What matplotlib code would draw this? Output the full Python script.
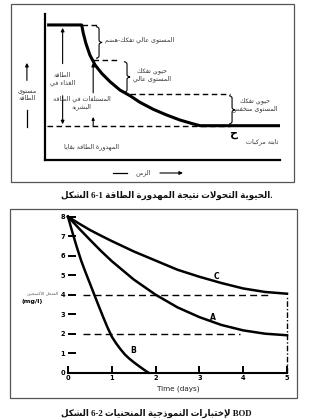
import matplotlib
matplotlib.use("Agg")
import matplotlib.pyplot as plt
from matplotlib.patches import Rectangle, PathPatch
from matplotlib.path import Path

# ---------------- Arabic shaping helper (presentation forms) ----------------
FORMS = {
    'ء': (0xFE80, None, None, None),
    'آ': (0xFE81, 0xFE82, None, None), 'أ': (0xFE83, 0xFE84, None, None),
    'ؤ': (0xFE85, 0xFE86, None, None), 'إ': (0xFE87, 0xFE88, None, None),
    'ئ': (0xFE89, 0xFE8A, 0xFE8B, 0xFE8C), 'ا': (0xFE8D, 0xFE8E, None, None),
    'ب': (0xFE8F, 0xFE90, 0xFE91, 0xFE92), 'ة': (0xFE93, 0xFE94, None, None),
    'ت': (0xFE95, 0xFE96, 0xFE97, 0xFE98), 'ث': (0xFE99, 0xFE9A, 0xFE9B, 0xFE9C),
    'ج': (0xFE9D, 0xFE9E, 0xFE9F, 0xFEA0), 'ح': (0xFEA1, 0xFEA2, 0xFEA3, 0xFEA4),
    'خ': (0xFEA5, 0xFEA6, 0xFEA7, 0xFEA8), 'د': (0xFEA9, 0xFEAA, None, None),
    'ذ': (0xFEAB, 0xFEAC, None, None), 'ر': (0xFEAD, 0xFEAE, None, None),
    'ز': (0xFEAF, 0xFEB0, None, None), 'س': (0xFEB1, 0xFEB2, 0xFEB3, 0xFEB4),
    'ش': (0xFEB5, 0xFEB6, 0xFEB7, 0xFEB8), 'ص': (0xFEB9, 0xFEBA, 0xFEBB, 0xFEBC),
    'ض': (0xFEBD, 0xFEBE, 0xFEBF, 0xFEC0), 'ط': (0xFEC1, 0xFEC2, 0xFEC3, 0xFEC4),
    'ظ': (0xFEC5, 0xFEC6, 0xFEC7, 0xFEC8), 'ع': (0xFEC9, 0xFECA, 0xFECB, 0xFECC),
    'غ': (0xFECD, 0xFECE, 0xFECF, 0xFED0), 'ف': (0xFED1, 0xFED2, 0xFED3, 0xFED4),
    'ق': (0xFED5, 0xFED6, 0xFED7, 0xFED8), 'ك': (0xFED9, 0xFEDA, 0xFEDB, 0xFEDC),
    'ل': (0xFEDD, 0xFEDE, 0xFEDF, 0xFEE0), 'م': (0xFEE1, 0xFEE2, 0xFEE3, 0xFEE4),
    'ن': (0xFEE5, 0xFEE6, 0xFEE7, 0xFEE8), 'ه': (0xFEE9, 0xFEEA, 0xFEEB, 0xFEEC),
    'و': (0xFEED, 0xFEEE, None, None), 'ى': (0xFEEF, 0xFEF0, None, None),
    'ي': (0xFEF1, 0xFEF2, 0xFEF3, 0xFEF4),
}
LAM_ALEF = {'آ': (0xFEF5, 0xFEF6), 'أ': (0xFEF7, 0xFEF8),
            'إ': (0xFEF9, 0xFEFA), 'ا': (0xFEFB, 0xFEFC)}


def _dual(c):
    return c in FORMS and FORMS[c][2] is not None


def _shape_run(run):
    out = []
    i, n = 0, len(run)
    while i < n:
        c = run[i]
        prev_j = i > 0 and _dual(run[i - 1]) and not (run[i - 1] == 'ل' and c in LAM_ALEF)
        if c == 'ل' and i + 1 < n and run[i + 1] in LAM_ALEF:
            iso, fin = LAM_ALEF[run[i + 1]]
            out.append(chr(fin if prev_j else iso))
            i += 2
            continue
        nxt_j = _dual(c) and i + 1 < n and run[i + 1] in FORMS
        f = FORMS[c]
        if prev_j and nxt_j:
            code = f[3]
        elif prev_j:
            code = f[1]
        elif nxt_j:
            code = f[2]
        else:
            code = f[0]
        out.append(chr(code))
        i += 1
    return ''.join(reversed(out))


def ar(text):
    lines = []
    for line in text.split('\n'):
        words = []
        for w in line.split(' '):
            runs, cur, cur_ar = [], '', None
            for ch in w:
                is_ar = ch in FORMS
                if cur and is_ar != cur_ar:
                    runs.append((cur, cur_ar))
                    cur = ''
                cur += ch
                cur_ar = is_ar
            if cur:
                runs.append((cur, cur_ar))
            words.append(''.join(_shape_run(r) if a else r for r, a in runs))
        lines.append(' '.join(words))
    return '\n'.join(lines)


# ---------------- Data: figure 6-1 (schematic energy curve) ----------------
energy_time = [0.09, 1.56, 1.63, 1.74, 1.91, 2.13, 2.41, 2.77, 3.19, 3.62,
               4.04, 4.61, 5.18, 5.74, 6.31, 6.60, 10.0]
energy_level = [9.25, 9.25, 8.68, 7.99, 7.19, 6.51, 5.94, 5.36, 4.79, 4.40,
                3.95, 3.47, 3.08, 2.74, 2.47, 2.35, 2.35]
level_values = [9.25, 6.85, 4.52, 2.35]
level_x_start = [1.56, 2.04, 3.62, 0.09]
level_x_end = [2.21, 3.06, 7.87, 7.87]
brace_x = [2.30, 3.49, 7.96]

# ---------------- Data: figure 6-2 (BOD curves) ----------------
days_ac = [0, 0.25, 0.5, 0.75, 1.0, 1.5, 2.0, 2.5, 3.0, 3.5, 4.0, 4.5, 5.0]
do_C = [8, 7.65, 7.32, 7.03, 6.75, 6.22, 5.75, 5.28, 4.92, 4.60, 4.32, 4.14, 4.05]
do_A = [8, 7.40, 6.82, 6.25, 5.72, 4.78, 4.00, 3.35, 2.85, 2.45, 2.17, 2.00, 1.92]
days_b = [0, 0.1, 0.2, 0.3, 0.4, 0.5, 0.6, 0.7, 0.8, 0.9, 1.0, 1.1, 1.2, 1.3,
          1.4, 1.5, 1.6, 1.7, 1.8, 1.84]
do_B = [8, 7.2, 6.45, 5.75, 5.15, 4.58, 4.0, 3.43, 2.87, 2.33, 1.85, 1.5, 1.2,
        0.93, 0.72, 0.54, 0.37, 0.21, 0.05, 0]
ref_levels = [4, 2]
ref_start = [0.34, 0.34]
ref_end = [4.57, 3.93]
x_ticks = [0, 1, 2, 3, 4, 5]
y_ticks = [0, 1, 2, 3, 4, 5, 6, 7, 8]

W, H = 335, 420
fig = plt.figure(figsize=(W / 100, H / 100), dpi=100)
fig.patch.set_facecolor('white')

AR_FONT = ['DejaVu Sans']
TXT = '#333333'


def fx(px):
    return px / W


def fy(py):
    return 1 - py / H


# outer frames
for (x0, y0, x1, y1) in [(11, 4, 294, 182), (10, 209, 297, 398)]:
    fig.patches.append(Rectangle((fx(x0), fy(y1)), fx(x1) - fx(x0), fy(y0) - fy(y1),
                                 transform=fig.transFigure, fill=False,
                                 edgecolor='#555555', lw=0.9))

# ================= Top panel =================
ax1 = fig.add_axes([fx(45), fy(160), fx(280) - fx(45), fy(14) - fy(160)])
ax1.set_xlim(0, 10)
ax1.set_ylim(0, 10)
for s in ['top', 'right']:
    ax1.spines[s].set_visible(False)
for s in ['left', 'bottom']:
    ax1.spines[s].set_linewidth(1.6)
ax1.set_xticks([])
ax1.set_yticks([])
ax1.patch.set_alpha(0)

ax1.plot(energy_time, energy_level, color='k', lw=2.2, solid_capstyle='butt',
         clip_on=False, zorder=3)
for lv, a, b in zip(level_values, level_x_start, level_x_end):
    ax1.plot([a, b], [lv, lv], color='k', lw=1.0, dashes=(4, 2.5), clip_on=False)


def brace(ax, x, y0, y1, w=0.13, d=0.18):
    ym = (y0 + y1) / 2
    verts = [(x - w, y1), (x, y1), (x, y1 - d),
             (x, ym + d), (x, ym), (x + w, ym),
             (x, ym), (x, ym - d),
             (x, y0 + d), (x, y0), (x - w, y0)]
    codes = [Path.MOVETO, Path.CURVE3, Path.CURVE3,
             Path.LINETO, Path.CURVE3, Path.CURVE3,
             Path.CURVE3, Path.CURVE3,
             Path.LINETO, Path.CURVE3, Path.CURVE3]
    ax.add_patch(PathPatch(Path(verts, codes), fill=False, lw=0.8,
                           edgecolor='k', clip_on=False))


for i, bx in enumerate(brace_x):
    brace(ax1, bx, level_values[i + 1] + 0.12, level_values[i] - 0.12)


def arrow(ax, x0, y0, x1, y1, lw=0.8, ms=5):
    ax.annotate('', xy=(x1, y1), xytext=(x0, y0), xycoords='data',
                arrowprops=dict(arrowstyle='-|>', lw=lw, color='k',
                                mutation_scale=ms, shrinkA=0, shrinkB=0),
                annotation_clip=False)


# energy in food arrow (split around text)
arrow(ax1, 0.75, 6.6, 0.75, 9.05)
arrow(ax1, 0.75, 4.4, 0.75, 2.45)
# energy in human waste arrow
arrow(ax1, 2.05, 4.6, 2.05, 6.65)
arrow(ax1, 2.05, 2.35, 2.05, 2.95, ms=4)
# left "energy level" arrow
arrow(ax1, -0.77, 5.45, -0.77, 6.65)
ax1.plot([-0.77, -0.77], [2.25, 3.4], color='k', lw=0.9, clip_on=False)
# time arrow
ax1.plot([2.89, 3.49], [-0.89, -0.89], color='k', lw=0.9, clip_on=False)
arrow(ax1, 4.89, -0.89, 5.87, -0.89, ms=5)

fs_small = 4.6
lbl = dict(fontsize=fs_small, color=TXT, family=AR_FONT, ha='center', va='center',
           linespacing=1.3)
ax1.text(4.04, 8.22, ar('هضم-تفكك عالي المستوى'), **lbl)
ax1.text(4.55, 5.85, ar('تفكك حيوي\nعالي المستوى'), **lbl)
ax1.text(0.75, 5.5, ar('الطاقة\nفي الغذاء'), **lbl)
ax1.text(1.55, 3.95, ar('الطاقة في المستلفات\nالبشرية'), **lbl)
ax1.text(8.94, 3.78, ar('تفكك حيوي\nمنخفض المستوى'), **lbl)
ax1.text(9.23, 1.23, ar('مركبات ثابتة'), **lbl)
ax1.text(8.0, 1.75, 'ح', fontsize=8, color='k', family=AR_FONT, ha='center',
         va='center', fontweight='bold', clip_on=False)
ax1.text(2.0, 0.89, ar('بقايا الطاقة المهدورة'), **lbl)
ax1.text(-0.77, 4.4, ar('مستوى\nالطاقة'), **lbl)
ax1.text(4.17, -0.89, ar('الزمن'), **lbl)

fig.text(fx(167), fy(195), ar('الشكل 6-1 الطاقة المهدورة نتيجة التحولات الحيوية.'),
         fontsize=6.3, fontweight='bold', family=['Liberation Serif', 'DejaVu Sans'],
         ha='center', va='center', color='#111111')

# ================= Bottom panel =================
ax2 = fig.add_axes([fx(68), fy(372.7), fx(287) - fx(68), fy(216.7) - fy(372.7)])
ax2.set_xlim(0, 5)
ax2.set_ylim(0, 8)
for s in ['top', 'right', 'left']:
    ax2.spines[s].set_visible(False)
ax2.spines['bottom'].set_linewidth(1.5)
ax2.patch.set_alpha(0)

ax2.plot(days_ac, do_C, color='k', lw=1.8, clip_on=False)
ax2.plot(days_ac, do_A, color='k', lw=1.8, clip_on=False)
ax2.plot(days_b, do_B, color='k', lw=1.8, clip_on=False)
for lv, a, b in zip(ref_levels, ref_start, ref_end):
    ax2.plot([a, b], [lv, lv], color='k', lw=1.0, dashes=(5, 3))
ax2.plot([5, 5], [0, 3.9], color='k', lw=1.0, dashes=(4, 1.5, 1, 1.5), clip_on=False)

ax2.text(3.40, 4.92, 'C', fontsize=5.5, fontweight='bold', ha='center', va='center')
ax2.text(3.31, 2.82, 'A', fontsize=5.5, fontweight='bold', ha='center', va='center')
ax2.text(1.49, 1.16, 'B', fontsize=5.5, fontweight='bold', ha='center', va='center')

ax2.set_xticks(x_ticks)
ax2.set_yticks(y_ticks)
ax2.set_xticklabels([str(v) for v in x_ticks], fontsize=4.8, fontweight='bold')
ax2.set_yticklabels([str(v) for v in y_ticks], fontsize=4.8, fontweight='bold')
ax2.tick_params(axis='y', direction='in', length=6, width=1.4, pad=2)
ax2.tick_params(axis='x', direction='in', length=5, width=1.4, pad=2)

fig.text(fx(58), fy(294), ar('الأكسجين المنحل'), fontsize=3.2, color='#555555',
         family=AR_FONT, ha='right', va='center')
fig.text(fx(32), fy(301), '(mg/l)', fontsize=4.6, fontweight='bold',
         ha='center', va='center')
fig.text(fx(178), fy(389), 'Time (days)', fontsize=5.2, ha='center', va='center',
         color='#222222')

fig.text(fx(156), fy(413), ar('الشكل 6-2 المنحنيات النموذجية لإختبارات BOD'),
         fontsize=6.3, fontweight='bold', family=['Liberation Serif', 'DejaVu Sans'],
         ha='center', va='center', color='#111111')

fig.savefig('out.png', dpi=100, facecolor='white')
